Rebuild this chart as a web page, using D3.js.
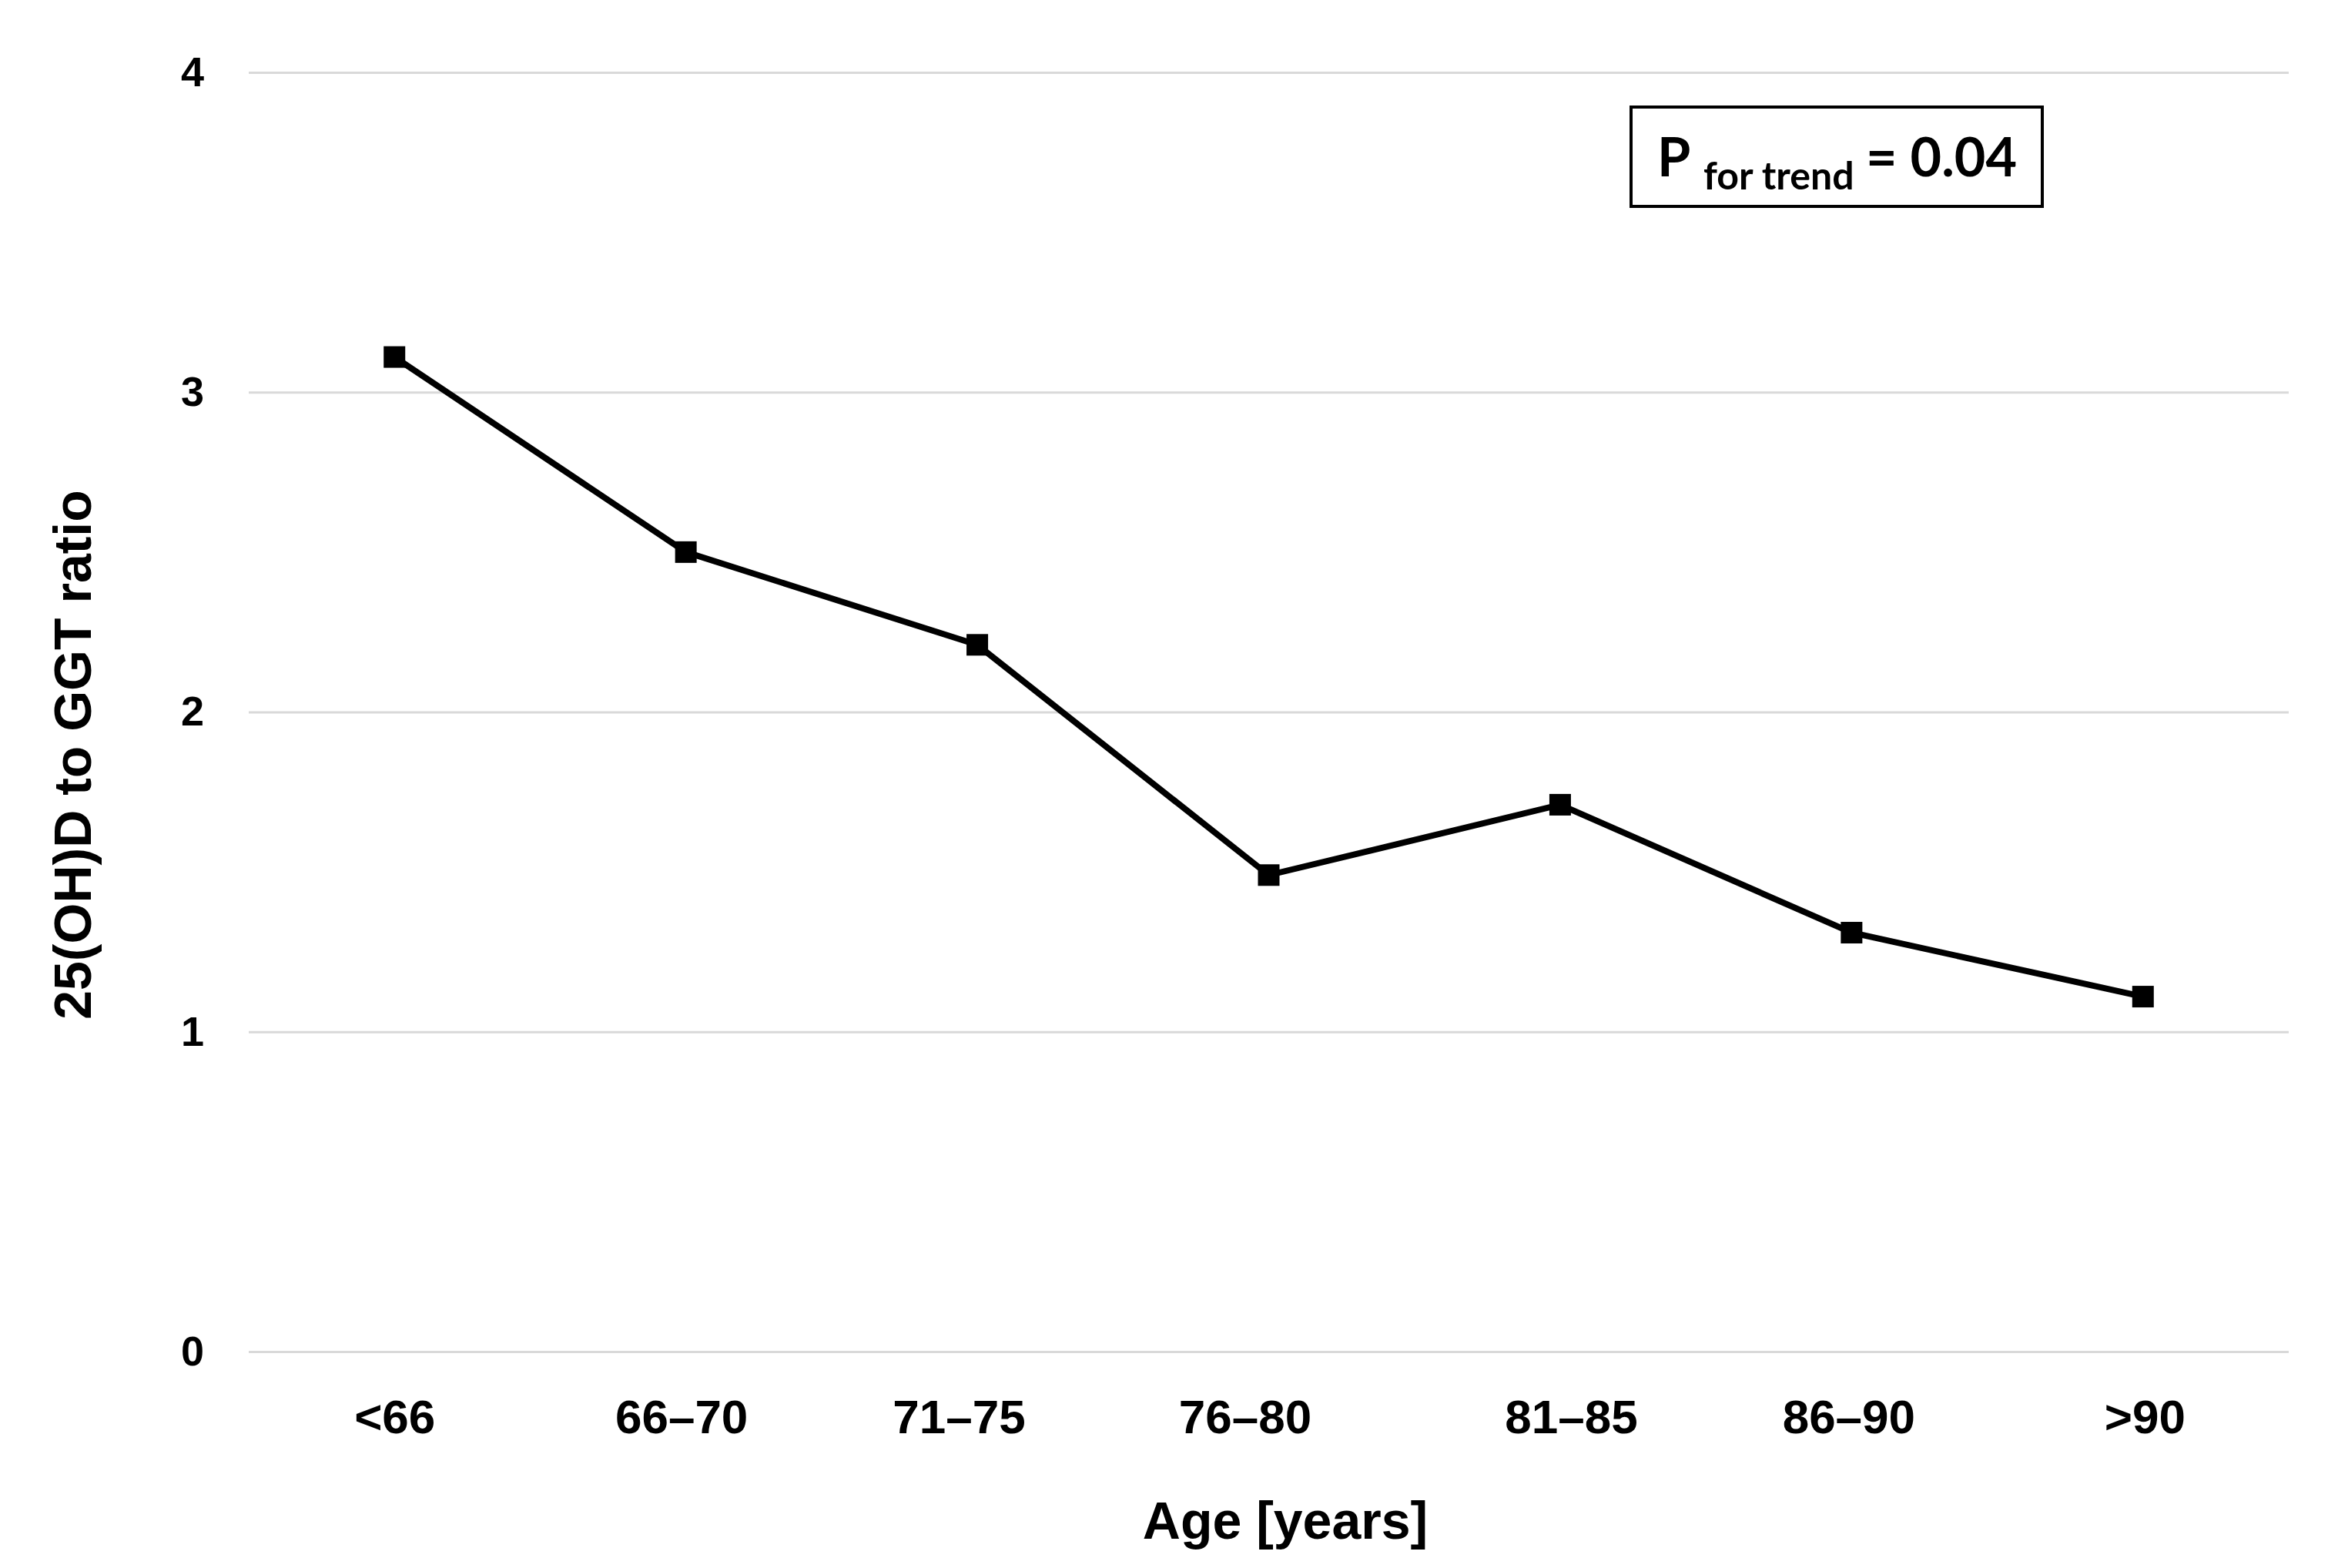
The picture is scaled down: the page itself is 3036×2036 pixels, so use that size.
<!DOCTYPE html>
<html>
<head>
<meta charset="utf-8">
<script src="https://cdn.jsdelivr.net/npm/d3@7"></script>
<style>
  html, body { margin: 0; padding: 0; background: #ffffff; }
  svg { display: block; }
</style>
</head>
<body>
<script>
// ---- data ----
const categories = ["<66", "66\u201370", "71\u201375", "76\u201380", "81\u201385", "86\u201390", ">90"];
const ratioValues = [3.11, 2.50, 2.21, 1.49, 1.71, 1.31, 1.11];
const yTicks = [0, 1, 2, 3, 4];
const xTitle = "Age [years]";
const yTitle = "25(OH)D to GGT ratio";
const pMain = "P";
const pSub = "for trend";
const pValue = "= 0.04";

// ---- layout ----
const W = 3036, H = 2036;
const plot = { left: 323, right: 2972, top: 94, bottom: 1755 };
// small horizontal nudges of the category labels as placed in the original figure
const labelNudge = [0, -6, -24, -31, 14, -4, 2];

const svg = d3.select("body").append("svg")
  .attr("width", W).attr("height", H)
  .attr("viewBox", `0 0 ${W} ${H}`);

svg.append("rect").attr("width", W).attr("height", H).attr("fill", "#ffffff");

const x = d3.scalePoint().domain(categories).range([plot.left, plot.right]).padding(0.5);
const y = d3.scaleLinear().domain([0, 4]).range([plot.bottom, plot.top]);

const fontMain = "'Liberation Sans', Arial, Helvetica, sans-serif";

// y axis with gridlines
const yAxis = svg.append("g")
  .attr("transform", `translate(${plot.left},0)`)
  .call(d3.axisLeft(y).tickValues(yTicks).tickFormat(d3.format("d"))
    .tickSize(-(plot.right - plot.left)).tickPadding(58));
yAxis.select(".domain").remove();
yAxis.selectAll(".tick line").attr("stroke", "#d9d9d9").attr("stroke-width", 3);
yAxis.selectAll(".tick text")
  .attr("font-family", fontMain).attr("font-weight", "bold")
  .attr("font-size", 54).attr("fill", "#000");

// x axis labels
const xAxis = svg.append("g")
  .attr("transform", `translate(0,${plot.bottom})`)
  .call(d3.axisBottom(x).tickSize(0));
xAxis.select(".domain").remove();
xAxis.selectAll(".tick text")
  .attr("x", (d, i) => labelNudge[i])
  .attr("y", 106).attr("dy", 0)
  .attr("font-family", fontMain).attr("font-weight", "bold")
  .attr("font-size", 62).attr("fill", "#000");

// line
const pts = categories.map((c, i) => ({ c, v: ratioValues[i] }));
svg.append("path")
  .datum(pts)
  .attr("fill", "none").attr("stroke", "#000").attr("stroke-width", 8)
  .attr("stroke-linejoin", "miter")
  .attr("d", d3.line().x(d => x(d.c)).y(d => y(d.v)));

// markers
const ms = 28;
svg.append("g").selectAll("rect").data(pts).join("rect")
  .attr("x", d => x(d.c) - ms / 2).attr("y", d => y(d.v) - ms / 2)
  .attr("width", ms).attr("height", ms).attr("fill", "#000");

// axis titles
svg.append("text")
  .attr("x", 1669).attr("y", 1998)
  .attr("text-anchor", "middle")
  .attr("font-family", fontMain).attr("font-weight", "bold")
  .attr("font-size", 68).attr("fill", "#000")
  .text(xTitle);

svg.append("text")
  .attr("transform", `translate(118,980) rotate(-90)`)
  .attr("text-anchor", "middle")
  .attr("font-family", fontMain).attr("font-weight", "bold")
  .attr("font-size", 68).attr("fill", "#000")
  .text(yTitle);

// P for trend box
const box = { x: 2118, y: 139, w: 534, h: 129 };
svg.append("rect")
  .attr("x", box.x).attr("y", box.y).attr("width", box.w).attr("height", box.h)
  .attr("fill", "#fff").attr("stroke", "#000").attr("stroke-width", 4);

const pFont = "Lato, 'Open Sans', sans-serif";
const pt = svg.append("text")
  .attr("font-family", pFont).attr("font-weight", "bold").attr("fill", "#000");
pt.append("tspan").attr("x", 2152).attr("y", 229).attr("font-size", 70).text(pMain);
pt.append("tspan").attr("x", 2212).attr("y", 246).attr("font-size", 50).text(pSub);
pt.append("tspan").attr("x", 2423).attr("y", 229).attr("font-size", 70).text(pValue);
</script>
</body>
</html>
